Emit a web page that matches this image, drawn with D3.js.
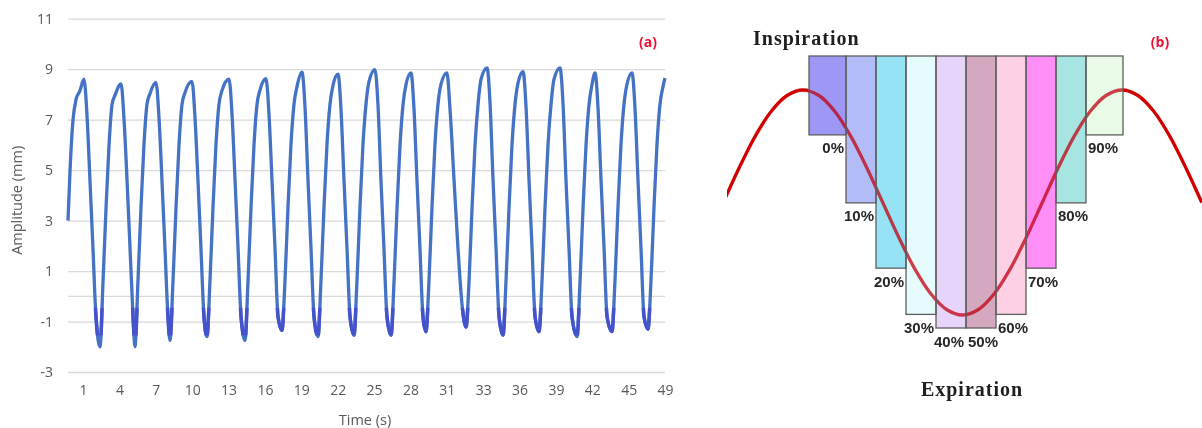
<!DOCTYPE html>
<html><head><meta charset="utf-8">
<script src="https://cdn.jsdelivr.net/npm/d3@7"></script>
<style>
html,body{margin:0;padding:0;background:#fff;}
svg{display:block;}
</style></head><body>
<svg id="c" width="1202" height="428"></svg>
<script>
// ---------- Panel (a): breathing trace, [time (s), amplitude (mm)] ----------
const breathingTrace = [
[0,3.0],[0.17,5.0],[0.42,7.0],[0.67,7.8],[1.0,8.15],[1.33,8.6],
[1.58,7.2],[1.83,4.6],[2.08,1.9],[2.33,-0.8],[2.67,-2.0],
[2.92,0.6],[3.17,3.5],[3.42,6.0],[3.67,7.6],[3.92,7.97],[4.42,8.42],
[4.67,7.0],[4.92,4.6],[5.17,1.9],[5.42,-0.8],[5.58,-2.0],
[5.83,0.6],[6.08,3.5],[6.33,6.0],[6.58,7.6],[6.83,8.03],[7.33,8.48],
[7.58,7.1],[7.83,4.6],[8.08,1.9],[8.33,-0.8],[8.5,-1.75],
[8.75,0.6],[9.0,3.5],[9.25,6.0],[9.5,7.6],[9.75,8.07],[10.33,8.52],
[10.58,7.1],[10.83,4.6],[11.08,1.9],[11.33,-0.8],[11.58,-1.6],
[11.83,0.6],[12.08,3.5],[12.33,6.0],[12.58,7.6],[12.83,8.15],[13.42,8.6],
[13.67,7.2],[13.92,4.6],[14.17,1.9],[14.42,-0.8],[14.75,-1.75],
[15.0,0.6],[15.25,3.5],[15.5,6.0],[15.75,7.6],[16.0,8.17],[16.5,8.62],
[16.75,7.2],[17.0,4.6],[17.25,1.9],[17.5,-0.8],[17.83,-1.35],
[18.08,0.6],[18.33,3.5],[18.58,6.0],[18.83,7.6],[19.08,8.3],[19.5,8.88],
[19.75,7.5],[20.0,4.6],[20.25,1.9],[20.5,-0.8],[20.83,-1.6],
[21.08,0.6],[21.33,3.5],[21.58,6.0],[21.83,7.6],[22.08,8.35],[22.5,8.8],
[22.75,7.4],[23.0,4.6],[23.25,1.9],[23.5,-0.8],[23.83,-1.55],
[24.08,0.6],[24.33,3.5],[24.58,6.0],[24.83,7.6],[25.08,8.5],[25.58,8.98],
[25.83,7.6],[26.08,4.6],[26.33,1.9],[26.58,-0.8],[26.92,-1.55],
[27.17,0.6],[27.42,3.5],[27.67,6.0],[27.92,7.6],[28.17,8.4],[28.58,8.85],
[28.83,7.45],[29.08,4.6],[29.33,1.9],[29.58,-0.8],[29.83,-1.4],
[30.08,0.6],[30.33,3.5],[30.58,6.0],[30.83,7.6],[31.08,8.4],[31.58,8.85],
[31.83,7.45],[32.17,4.6],[32.5,1.9],[32.83,-0.3],[33.17,-1.22],
[33.42,0.6],[33.67,3.5],[33.92,6.0],[34.17,7.6],[34.42,8.6],[34.92,9.05],
[35.17,7.65],[35.42,4.6],[35.67,1.9],[35.92,-0.8],[36.25,-1.55],
[36.5,0.6],[36.75,3.5],[37.0,6.0],[37.25,7.6],[37.5,8.45],[37.92,8.9],
[38.17,7.5],[38.42,4.6],[38.67,1.9],[38.92,-0.8],[39.25,-1.4],
[39.5,0.6],[39.75,3.5],[40.0,6.0],[40.25,7.6],[40.5,8.6],[41.0,9.05],
[41.25,7.65],[41.5,4.6],[41.75,1.9],[42.0,-0.8],[42.42,-1.6],
[42.67,0.6],[42.92,3.5],[43.17,6.0],[43.42,7.6],[43.67,8.4],[43.92,8.85],
[44.17,7.45],[44.42,4.6],[44.67,1.9],[44.92,-0.8],[45.33,-1.4],
[45.58,0.6],[45.83,3.5],[46.08,6.0],[46.33,7.6],[46.58,8.4],[47.0,8.85],
[47.25,7.45],[47.5,4.6],[47.75,1.9],[48.0,-0.8],[48.33,-1.3],
[48.58,0.6],[48.83,3.5],[49.08,6.0],[49.33,7.6],[49.58,8.3],[49.75,8.65]
];
const amplitudeTicks = [11, 9, 7, 5, 3, 1, -1, -3];
const timeTickLabels = ["1","4","7","10","13","16","19","22","25","28","31","33","36","39","42","45","49"];

// ---------- Panel (b): respiratory phase bins ----------
const phaseLabels = ["0%","10%","20%","30%","40%","50%","60%","70%","80%","90%"];
const phaseDepth  = [0.29, 0.54, 0.78, 0.95, 1.0, 1.0, 0.95, 0.78, 0.54, 0.29];
const phaseColors = ["#9d98f6","#b2bdf7","#95e3f4","#e6fcfc","#e6d4fb","#d4a9bf","#fdd0e5","#ff8ef7","#a6e5e2","#e9fbe6"];
const curvePhase = [-0.25,-0.2,-0.15,-0.1,-0.05,0,0.05,0.1,0.15,0.2,0.25,0.3,0.35,0.4,0.45,0.5,0.55,0.6,0.65,0.7,0.75,0.8,0.85,0.9,0.95,1.0,1.05,1.1,1.15,1.2,1.25];
const curveAmp   = [0,0.309,0.588,0.809,0.951,1,0.951,0.809,0.588,0.309,0,-0.309,-0.588,-0.809,-0.951,-1,-0.951,-0.809,-0.588,-0.309,0,0.309,0.588,0.809,0.951,1,0.951,0.809,0.588,0.309,0];

const svg = d3.select("#c");
const sans = "'Open Sans', sans-serif";

// ===== Panel (a) =====
const pa = {left: 68, right: 665, top: 18.7, bottom: 372};
const x = d3.scaleLinear().domain([0, 49.75]).range([pa.left, pa.right]);
const y = d3.scaleLinear().domain([-3, 11]).range([pa.bottom, pa.top]);
const xLab = d3.scalePoint().domain(timeTickLabels).range([83, 665]);

const yAxis = svg.append("g").attr("transform", `translate(${pa.left},0)`)
  .call(d3.axisLeft(y).tickValues(amplitudeTicks).tickSize(-(pa.right - pa.left)).tickPadding(15).tickFormat(d => String(d)));
yAxis.select(".domain").remove();
yAxis.selectAll(".tick line").attr("stroke", "#d9d9d9").attr("stroke-width", 1.3);
yAxis.selectAll(".tick text").attr("fill", "#595959").style("font-family", sans).style("font-size", "14px");

svg.append("line").attr("x1", pa.left).attr("x2", pa.right)
  .attr("y1", y(0)).attr("y2", y(0)).attr("stroke", "#d9d9d9").attr("stroke-width", 1.3);

const xAxis = svg.append("g").attr("transform", `translate(0,${pa.bottom})`)
  .call(d3.axisBottom(xLab).tickSize(0).tickPadding(13));
xAxis.select(".domain").remove();
xAxis.selectAll(".tick text").attr("fill", "#595959").style("font-family", sans).style("font-size", "14px");

const line = d3.line().x(d => x(d[0])).y(d => y(d[1])).curve(d3.curveMonotoneX);
svg.append("path").datum(breathingTrace).attr("d", line)
  .attr("fill", "none").attr("stroke", "#4472c4").attr("stroke-width", 3.3)
  .attr("stroke-linejoin", "round");

svg.append("clipPath").attr("id", "troughClip").append("rect")
  .attr("x", pa.left).attr("width", pa.right - pa.left)
  .attr("y", y(-0.45)).attr("height", y(-1.55) - y(-0.45));
svg.append("path").datum(breathingTrace).attr("d", line).attr("clip-path", "url(#troughClip)")
  .attr("fill", "none").attr("stroke", "#4452cc").attr("stroke-width", 3.5);

svg.append("text").attr("transform", `translate(22,${(pa.top + pa.bottom) / 2 + 5}) rotate(-90)`)
  .attr("text-anchor", "middle").attr("fill", "#595959")
  .style("font-family", sans).style("font-size", "14.5px").text("Amplitude (mm)");
svg.append("text").attr("x", 365).attr("y", 425).attr("text-anchor", "middle").attr("fill", "#595959")
  .style("font-family", sans).style("font-size", "14.5px").text("Time (s)");
svg.append("text").attr("x", 648).attr("y", 47).attr("text-anchor", "middle").attr("fill", "#ee1133")
  .style("font-family", sans).style("font-size", "14px").style("font-weight", "bold").text("(a)");

// ===== Panel (b) =====
const pxPhase = d3.scaleLinear().domain([0, 1]).range([803, 1122]);
const pyAmp = d3.scaleLinear().domain([-1, 1]).range([315, 90]);
const band = d3.scaleBand().domain(phaseLabels).range([816, 1116]);
const depth = d3.scaleLinear().domain([0, 1]).range([56, 328]);
const outerExtra = 7;
const bx = (d, i) => band(d) - (i === 0 ? outerExtra : 0);
const bw = (d, i) => band.bandwidth() + (i === 0 || i === phaseLabels.length - 1 ? outerExtra : 0);
const bh = (d, i) => depth(phaseDepth[i]) - depth(0);

svg.append("clipPath").attr("id", "curveClip").append("rect")
  .attr("x", 727).attr("y", 0).attr("width", 1202 - 727).attr("height", 428);
svg.append("clipPath").attr("id", "barClip").selectAll("rect").data(phaseLabels).join("rect")
  .attr("x", bx).attr("width", bw).attr("y", depth(0)).attr("height", bh);

const curve = d3.line().x((d, i) => pxPhase(curvePhase[i])).y(d => pyAmp(d)).curve(d3.curveCatmullRom);
svg.append("path").datum(curveAmp).attr("d", curve).attr("clip-path", "url(#curveClip)")
  .attr("fill", "none").attr("stroke", "#d20000").attr("stroke-width", 3.3);

svg.append("g").selectAll("rect").data(phaseLabels).join("rect")
  .attr("x", bx).attr("width", bw)
  .attr("y", depth(0)).attr("height", bh)
  .attr("fill", (d, i) => phaseColors[i]);

// curve seen through the coloured bars (darkened, multiplied)
svg.append("g").attr("clip-path", "url(#barClip)").append("path").datum(curveAmp).attr("d", curve)
  .attr("fill", "none").attr("stroke", "#c00010").attr("stroke-width", 3.3)
  .attr("opacity", 0.75).style("mix-blend-mode", "multiply");

svg.append("g").selectAll("rect").data(phaseLabels).join("rect")
  .attr("x", bx).attr("width", bw)
  .attr("y", depth(0)).attr("height", bh)
  .attr("fill", "none").attr("stroke", "#5e5e5e").attr("stroke-width", 1.3);

svg.append("g").selectAll("text").data(phaseLabels).join("text")
  .attr("x", (d, i) => i < 5 ? bx(d, i) + bw(d, i) - 2 : bx(d, i) + 2)
  .attr("y", (d, i) => depth(phaseDepth[i]) + 13)
  .attr("dominant-baseline", "central")
  .attr("text-anchor", (d, i) => i < 5 ? "end" : "start")
  .attr("fill", "#262626")
  .style("font-family", "'Liberation Sans', Arial, sans-serif").style("font-size", "15px").style("font-weight", "bold")
  .text(d => d);

const serif = "'Liberation Serif', 'Times New Roman', serif";
svg.append("text").attr("x", 753).attr("y", 45).attr("fill", "#1f1f22")
  .style("font-family", serif).style("font-size", "20px").style("font-weight", "bold").style("letter-spacing", "1px")
  .text("Inspiration");
svg.append("text").attr("x", 972).attr("y", 396).attr("text-anchor", "middle").attr("fill", "#1f1f22")
  .style("font-family", serif).style("font-size", "20px").style("font-weight", "bold").style("letter-spacing", "1px")
  .text("Expiration");
svg.append("text").attr("x", 1160).attr("y", 47).attr("text-anchor", "middle").attr("fill", "#ee1133")
  .style("font-family", sans).style("font-size", "14px").style("font-weight", "bold").text("(b)");
</script>
</body></html>
